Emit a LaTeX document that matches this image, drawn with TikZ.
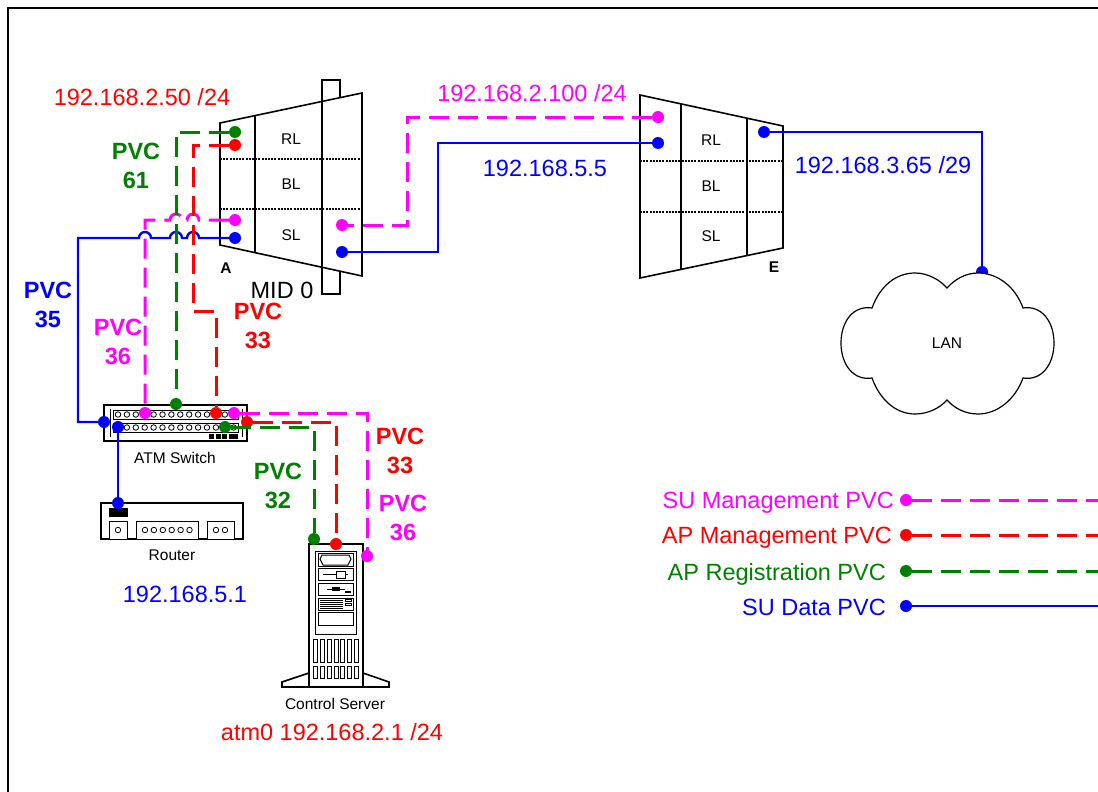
\documentclass[tikz,border=0pt]{standalone}
\usepackage{fontspec}
\setmainfont{Liberation Sans}
\definecolor{pvcgreen}{RGB}{0,128,0}
\definecolor{pvcmagenta}{RGB}{255,0,255}
\definecolor{pvcred}{RGB}{255,0,0}
\definecolor{pvcblue}{RGB}{0,0,255}
\tikzset{
  dev/.style={draw=black, line width=1.6pt, fill=white},
  thin dev/.style={draw=black, line width=1pt, fill=white},
  layer/.style={draw=black, line width=2pt, dash pattern=on 2pt off 1.2pt},
  dot/.style={circle, fill=#1, inner sep=0pt, minimum size=12pt},
  solidpvc/.style={draw=#1, line width=2.4pt},
  dashpvc/.style={draw=#1, line width=3pt, dash pattern=on 20pt off 9pt},
  big/.style={font=\fontsize{23.5}{28}\selectfont},
  pvc/.style={font=\fontsize{23.5}{29}\selectfont\bfseries, align=center, text=#1},
  small/.style={font=\fontsize{15.5}{18}\selectfont},
  hole/.style={circle, draw=black, line width=.8pt, fill=white, inner sep=0pt, minimum size=5.5pt}
}
\begin{document}
\begin{tikzpicture}[x=1pt, y=-1pt]
  \path[use as bounding box, clip] (0,0) rectangle (1098,792);
  \fill[white] (0,0) rectangle (1098,792);
  \draw[line width=2pt] (8,820) -- (8,8) -- (1120,8);
  % MID 0, sector A
  \draw[dev] (322,80) rectangle (340,294);
  \draw[dev] (220,123) -- (362,93) -- (362,276) -- (220,245) -- cycle;
  \draw[dev] (255,116) -- (255,253);
  \draw[dev] (322,102) -- (322,268);
  \draw[layer] (220,159) -- (362,159);
  \draw[layer] (220,209) -- (362,209);
  \node[small] (rla) at (291,139) {RL};
  \node[small] (bla) at (291,184) {BL};
  \node[small] (sla) at (291,235) {SL};
  \node[small, font=\fontsize{15.5}{18}\selectfont\bfseries] (seca) at (226,268) {A};
  \node[big] (mid) at (282,290) {MID 0};
  % sector E
  \draw[dev] (640,95) -- (783,126) -- (783,248) -- (640,278) -- cycle;
  \draw[dev] (681,104) -- (681,269);
  \draw[dev] (747,118) -- (747,255);
  \draw[layer] (640,161) -- (783,161);
  \draw[layer] (640,212) -- (783,212);
  \node[small] (rle) at (711,140) {RL};
  \node[small] (ble) at (711,186) {BL};
  \node[small] (sle) at (711,236) {SL};
  \node[small, font=\fontsize{15.5}{18}\selectfont\bfseries] (sece) at (774,267) {E};
  % ATM switch
  \draw[dev] (104,405) rectangle (247,441);
  \draw[thin dev] (110,409) -- (110,437);
  \draw[thin dev] (242,409) -- (242,437);
  \draw[thin dev] (113,410) rectangle (238,419);
  \draw[thin dev] (113,423) rectangle (238,432);
  \foreach \i in {0,...,13} {
    \node[hole] at (118+8.9*\i,414.5) {};
    \node[hole] at (118+8.9*\i,427.5) {};
  }
  \fill (209,434) rectangle (214,438.5);
  \fill (216,434) rectangle (221,438.5);
  \fill (222,434) rectangle (227,438.5);
  \fill (229,434) rectangle (238,438.5);
  \node[small] (swlabel) at (175,458) {ATM Switch};
  % router
  \draw[dev] (101,503) rectangle (243,539);
  \fill (109,508) rectangle (128,517);
  \draw[thin dev] (109,521) rectangle (127,539);
  \draw[thin dev] (136,521) rectangle (198,539);
  \draw[thin dev] (207,521) rectangle (234,539);
  \node[hole] at (118,530) {};
  \foreach \i in {0,...,5} \node[hole] at (145+8.9*\i,530) {};
  \node[hole] at (216,530) {};
  \node[hole] at (225,530) {};
  \node[small] (rtlabel) at (172,555) {Router};
  % control server
  \draw[dev] (309,673) -- (282,682) -- (282,687) -- (389,687) -- (389,682) -- (363,673) -- cycle;
  \draw[dev] (309,544) rectangle (363,687);
  \draw[thin dev] (315,551) rectangle (356,634);
  \draw[thin dev] (318,553) rectangle (353,566);
  \draw[thin dev] (322,555) -- (349,555) -- (351,559) -- (348,565) -- (323,565) -- (320,559) -- cycle;
  \draw[thin dev] (318,568) rectangle (353,580);
  \draw[line width=.8pt] (323,574.5) -- (348,574.5);
  \draw[thin dev] (336,571) rectangle (345,578);
  \draw[thin dev] (318,583) rectangle (353,595);
  \draw[line width=.8pt] (327,589) -- (345,589);
  \fill (332,587) rectangle (340,591);
  \fill (345,591) rectangle (351,593);
  \draw[thin dev] (318,598) rectangle (353,610);
  \foreach \y in {600,602,604,606,608} \draw[line width=.6pt] (320,\y) -- (343,\y);
  \draw[thin dev] (345,599.5) rectangle (351,601.5);
  \draw[thin dev] (345,603) rectangle (351,605);
  \draw[thin dev] (318,612) rectangle (353,625);
  \foreach \i in {0,...,6} {
    \draw[thin dev] (313.5+6.85*\i,639) rectangle (317.5+6.85*\i,662);
    \draw[thin dev] (313.5+6.85*\i,666) rectangle (317.5+6.85*\i,678);
  }
  \node[small] (srvlabel) at (335,704) {Control Server};
  % end points
  \node[dot=pvcgreen] (ga) at (235,132) {};
  \node[dot=pvcred] (ra) at (235,145) {};
  \node[dot=pvcmagenta] (ma) at (235,220) {};
  \node[dot=pvcblue] (ba) at (235,238) {};
  \node[dot=pvcmagenta] (mb) at (342,225) {};
  \node[dot=pvcblue] (bb) at (342,252) {};
  \node[dot=pvcmagenta] (me) at (658,117) {};
  \node[dot=pvcblue] (be) at (658,143) {};
  \node[dot=pvcblue] (bo) at (764,132) {};
  \node[dot=pvcblue] (bl) at (982,272) {};
  \node[dot=pvcblue] (bs) at (104,422) {};
  \node[dot=pvcblue] (bt) at (118,427) {};
  \node[dot=pvcmagenta] (ms) at (145,413) {};
  \node[dot=pvcgreen] (gs) at (176,404) {};
  \node[dot=pvcred] (rs) at (216,413) {};
  \node[dot=pvcmagenta] (mt) at (234,413) {};
  \node[dot=pvcgreen] (gt) at (225,427) {};
  \node[dot=pvcred] (rt) at (247,422) {};
  \node[dot=pvcblue] (br) at (118,503) {};
  \node[dot=pvcgreen] (gc) at (314,539) {};
  \node[dot=pvcred] (rc) at (336,544) {};
  \node[dot=pvcmagenta] (mc) at (367,556) {};
  \coordinate (rbenda) at (193,311);
  \coordinate (rbendb) at (216,311);
  \coordinate (mbend) at (407,170);
  \coordinate (bbend) at (438,200);
  % connectors
  \path[solidpvc=pvcblue]
  (ba) -- (199,238) arc[start angle=0, end angle=180, radius=6pt]
  -- (182,238) arc[start angle=0, end angle=180, radius=6pt]
  -- (151,238) arc[start angle=0, end angle=180, radius=6pt]
  -- (78,238) -- (78,422) -- (bs);
  \path[solidpvc=pvcblue] (bb) -| (bbend) |- (be);
  \path[solidpvc=pvcblue] (bo) -| (bl);
  \path[solidpvc=pvcblue] (bt) -- (br);
  \path[dashpvc=pvcmagenta]
  (ma) -- (199,220) arc[start angle=0, end angle=180, radius=6pt]
  -- (182,220) arc[start angle=0, end angle=180, radius=6pt]
  -- (145,220) -- (ms);
  \path[dashpvc=pvcgreen] (ga) -| (gs);
  \path[dashpvc=pvcred] (ra) -| (rbenda) -- (rbendb) -- (rs);
  \path[dashpvc=pvcmagenta] (me) -| (mbend) |- (mb);
  \path[dashpvc=pvcmagenta] (mt) -| (mc);
  \path[dashpvc=pvcred] (rt) -| (rc);
  \path[dashpvc=pvcgreen] (gt) -| (gc);
  % LAN
  \draw[dev, line width=1.2pt] (947,288) .. controls (954,280) and (965,273) .. (978,273)
  .. controls (997,273) and (1015,286) .. (1023,308)
  .. controls (1042,305) and (1054,322) .. (1054,343)
  .. controls (1054,364) and (1042,381) .. (1023,378)
  .. controls (1015,400) and (997,414) .. (978,414)
  .. controls (965,414) and (954,408) .. (947,400)
  .. controls (940,408) and (928,414) .. (915,414)
  .. controls (896,414) and (880,400) .. (872,378)
  .. controls (853,381) and (841,364) .. (841,343)
  .. controls (841,322) and (853,305) .. (872,308)
  .. controls (880,286) and (896,273) .. (915,273)
  .. controls (928,273) and (940,280) .. (947,288) -- cycle;
  \node[small] (lan) at (947,343) {LAN};
  % addresses
  \node[big, text=pvcred] (ipa) at (142,97) {192.168.2.50 /24};
  \node[big, text=pvcmagenta] (ipb) at (532,93) {192.168.2.100 /24};
  \node[big, text=pvcblue] (ipc) at (545,168) {192.168.5.5};
  \node[big, text=pvcblue] (ipd) at (883,165) {192.168.3.65 /29};
  \node[big, text=pvcblue] (ipe) at (185,594) {192.168.5.1};
  \node[big, text=pvcred] (ipf) at (332,732) {atm0 192.168.2.1 /24};
  % pvc labels
  \node[pvc=pvcgreen] (pvca) at (136,166) {PVC\\61};
  \node[pvc=pvcblue] (pvcb) at (48,305) {PVC\\35};
  \node[pvc=pvcmagenta] (pvcc) at (118,342) {PVC\\36};
  \node[pvc=pvcred] (pvcd) at (258,326) {PVC\\33};
  \node[pvc=pvcred] (pvce) at (400,451) {PVC\\33};
  \node[pvc=pvcmagenta] (pvcf) at (403,518) {PVC\\36};
  \node[pvc=pvcgreen] (pvcg) at (278,486) {PVC\\32};
  % legend
  \node[dot=pvcmagenta] (lma) at (906,500) {};
  \node[dot=pvcmagenta] (lmb) at (1104,500) {};
  \node[dot=pvcred] (lra) at (906,535) {};
  \node[dot=pvcred] (lrb) at (1104,535) {};
  \node[dot=pvcgreen] (lga) at (906,571) {};
  \node[dot=pvcgreen] (lgb) at (1104,571) {};
  \node[dot=pvcblue] (lba) at (906,606) {};
  \node[dot=pvcblue] (lbb) at (1104,606) {};
  \path[dashpvc=pvcmagenta] (lma) -- (lmb);
  \path[dashpvc=pvcred] (lra) -- (lrb);
  \path[dashpvc=pvcgreen] (lga) -- (lgb);
  \path[solidpvc=pvcblue] (lba) -- (lbb);
  \node[big, text=pvcmagenta, anchor=east, inner sep=0pt] (lta) at (894,503) {SU Management PVC};
  \node[big, text=pvcred, anchor=east, inner sep=0pt] (ltb) at (892,538) {AP Management PVC};
  \node[big, text=pvcgreen, anchor=east, inner sep=0pt] (ltc) at (886,574) {AP Registration PVC};
  \node[big, text=pvcblue, anchor=east, inner sep=0pt] (ltd) at (886,607) {SU Data PVC};
\end{tikzpicture}
\end{document}
